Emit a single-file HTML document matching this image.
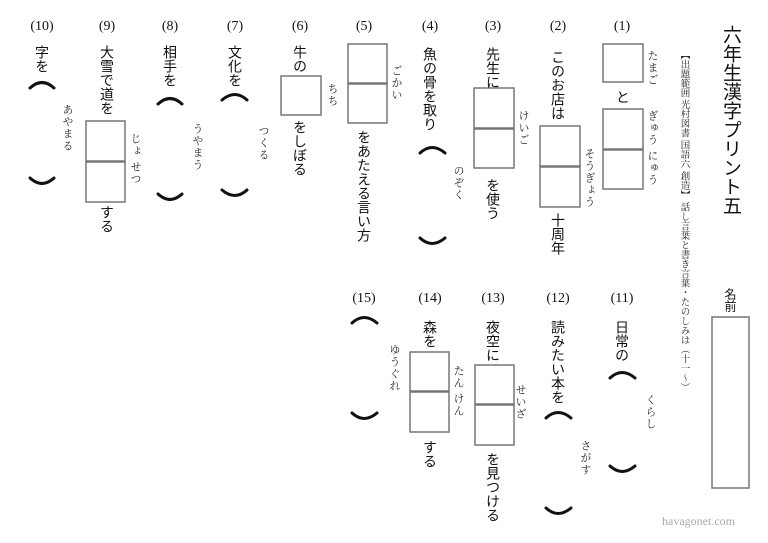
<!DOCTYPE html>
<html><head><meta charset="utf-8"><style>
body{margin:0;background:#fff;}
#p{position:relative;width:768px;height:543px;overflow:hidden;background:#fff;}
.v{position:absolute;writing-mode:vertical-rl;font-family:"Liberation Sans","Noto Sans CJK JP",sans-serif;color:#111;white-space:nowrap;line-height:1;}
.m{font-size:14px;letter-spacing:0px;font-weight:normal;}
.r{font-family:"Liberation Serif","Noto Serif CJK SC",serif;font-size:11px;letter-spacing:1px;color:#222;}
.n{position:absolute;font-family:"Liberation Serif",serif;font-size:14px;color:#111;transform:translateX(-50%);}
svg{position:absolute;left:0;top:0;}
</style></head><body><div id="p">
<svg width="768" height="543">
<g fill="none" stroke="#777" stroke-width="1.5">
<rect x="603" y="44" width="40" height="38"/><rect x="603" y="109" width="40" height="40"/><rect x="603" y="150" width="40" height="39"/>
<rect x="540" y="126" width="40" height="40"/><rect x="540" y="167" width="40" height="40"/>
<rect x="474" y="88" width="40" height="40"/><rect x="474" y="129" width="40" height="39"/>
<rect x="348" y="44" width="39" height="39"/><rect x="348" y="84" width="39" height="39"/>
<rect x="281" y="76" width="40" height="39"/>
<rect x="86" y="121" width="39" height="40"/><rect x="86" y="162" width="39" height="40"/>
<rect x="475" y="365" width="39" height="39"/><rect x="475" y="405" width="39" height="40"/>
<rect x="410" y="352" width="39" height="39"/><rect x="410" y="392" width="39" height="40"/>
<rect x="712" y="317" width="37" height="171"/>
</g>
<g fill="none" stroke="#111" stroke-width="3" stroke-linecap="round">
<path d="M420 153 Q432 142 445 153"/><path d="M420 238 Q432 249 445 238"/>
<path d="M222 100 Q235 89 247 100"/><path d="M222 190 Q235 201 247 190"/>
<path d="M158 104 Q170 93 182 104"/><path d="M158 194 Q170 205 182 194"/>
<path d="M30 88 Q42 77 54 88"/><path d="M30 178 Q42 189 54 178"/>
<path d="M610 378 Q622 367 635 378"/><path d="M610 466 Q622 477 635 466"/>
<path d="M546 418 Q558 407 571 418"/><path d="M546 508 Q558 519 571 508"/>
<path d="M352 323 Q364 312 377 323"/><path d="M352 413 Q364 424 377 413"/>
</g>
</svg>
<div class="v" style="left:721px;top:25px;font-size:19px;letter-spacing:0px;">六年生漢字プリント五</div>
<div class="v r" style="left:678px;top:50px;font-size:9.5px;letter-spacing:0px;">【出題範囲 光村図書 国語六 創造】 話し言葉と書き言葉・たのしみは（十一〜）</div>
<div class="v" style="left:724px;top:288px;font-size:12px;">名前</div>

<div class="n" style="left:622px;top:19px;">(1)</div><div class="n" style="left:558px;top:19px;">(2)</div><div class="n" style="left:493px;top:19px;">(3)</div><div class="n" style="left:430px;top:19px;">(4)</div><div class="n" style="left:364px;top:19px;">(5)</div><div class="n" style="left:300px;top:19px;">(6)</div><div class="n" style="left:235px;top:19px;">(7)</div><div class="n" style="left:170px;top:19px;">(8)</div><div class="n" style="left:107px;top:19px;">(9)</div><div class="n" style="left:42px;top:19px;">(10)</div>
<div class="n" style="left:622px;top:291px;">(11)</div><div class="n" style="left:558px;top:291px;">(12)</div><div class="n" style="left:493px;top:291px;">(13)</div><div class="n" style="left:430px;top:291px;">(14)</div><div class="n" style="left:364px;top:291px;">(15)</div>

<div class="v r" style="left:646px;top:50px;">たまご</div>
<div class="v m" style="left:616px;top:90px;">と</div>
<div class="v r" style="left:646px;top:110px;">ぎゅう にゅう</div>

<div class="v m" style="left:551px;top:50px;">このお店は</div>
<div class="v r" style="left:583px;top:148px;">そうぎょう</div>
<div class="v m" style="left:551px;top:213px;">十周年</div>

<div class="v m" style="left:486px;top:47px;">先生に</div>
<div class="v r" style="left:517px;top:110px;">けいご</div>
<div class="v m" style="left:486px;top:178px;">を使う</div>

<div class="v m" style="left:423px;top:47px;">魚の骨を取り</div>
<div class="v r" style="left:452px;top:165px;">のぞく</div>

<div class="v r" style="left:390px;top:65px;">ごかい</div>
<div class="v m" style="left:357px;top:130px;">をあたえる言い方</div>

<div class="v m" style="left:293px;top:45px;">牛の</div>
<div class="v r" style="left:326px;top:83px;">ちち</div>
<div class="v m" style="left:293px;top:120px;">をしぼる</div>

<div class="v m" style="left:228px;top:45px;">文化を</div>
<div class="v r" style="left:257px;top:125px;">つくる</div>

<div class="v m" style="left:163px;top:45px;">相手を</div>
<div class="v r" style="left:191px;top:123px;">うやまう</div>

<div class="v m" style="left:100px;top:45px;">大雪で道を</div>
<div class="v r" style="left:129px;top:133px;">じょ せつ</div>
<div class="v m" style="left:100px;top:205px;">する</div>

<div class="v m" style="left:35px;top:45px;">字を</div>
<div class="v r" style="left:61px;top:104px;">あやまる</div>

<div class="v m" style="left:615px;top:320px;">日常の</div>
<div class="v r" style="left:644px;top:394px;">くらし</div>

<div class="v m" style="left:551px;top:320px;">読みたい本を</div>
<div class="v r" style="left:579px;top:440px;">さがす</div>

<div class="v m" style="left:486px;top:320px;">夜空に</div>
<div class="v r" style="left:514px;top:384px;">せいざ</div>
<div class="v m" style="left:486px;top:452px;">を見つける</div>

<div class="v m" style="left:423px;top:320px;">森を</div>
<div class="v r" style="left:452px;top:365px;">たん けん</div>
<div class="v m" style="left:423px;top:440px;">する</div>

<div class="v r" style="left:388px;top:344px;">ゆうぐれ</div>

<div style="position:absolute;left:662px;top:514px;font-family:'Liberation Serif',serif;font-size:12px;color:#aaa;">havagonet.com</div>
</div></body></html>
